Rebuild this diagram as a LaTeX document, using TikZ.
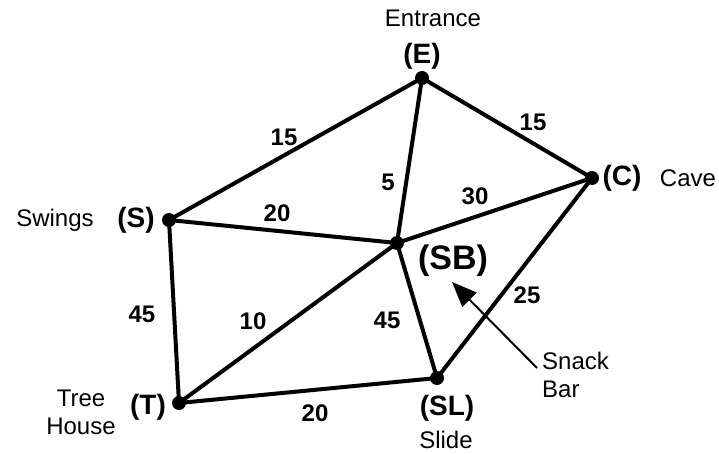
\documentclass[tikz,border=0pt]{standalone}
\usepackage{fontspec}
\setmainfont{Liberation Sans}
\usetikzlibrary{arrows.meta}
\begin{document}
\begin{tikzpicture}[x=1pt,y=-1pt,
  vtx/.style={circle,fill=black,inner sep=0pt,minimum size=14pt},
  edge/.style={line width=4pt,line cap=round},
  wt/.style={font=\fontsize{24}{26}\selectfont\bfseries,inner sep=0pt},
  lbl/.style={font=\fontsize{28}{30}\selectfont\bfseries,inner sep=0pt},
  nm/.style={font=\fontsize{24}{28}\selectfont,inner sep=0pt,align=center},
  pointer/.style={line width=2pt,-{Triangle[length=25pt,width=20pt]}}]
\useasboundingbox (0,0) rectangle (719,454);
% vertices
\node[vtx] (E) at (422,78) {};
\node[vtx] (C) at (592,178) {};
\node[vtx] (S) at (169,220) {};
\node[vtx] (SB) at (397,243) {};
\node[vtx] (T) at (179,403) {};
\node[vtx] (SL) at (437,378) {};
% edges
\draw[edge] (E.center) -- (C.center);
\draw[edge] (E.center) -- (S.center);
\draw[edge] (E.center) -- (SB.center);
\draw[edge] (S.center) -- (SB.center);
\draw[edge] (SB.center) -- (C.center);
\draw[edge] (S.center) -- (T.center);
\draw[edge] (T.center) -- (SB.center);
\draw[edge] (SB.center) -- (SL.center);
\draw[edge] (SL.center) -- (C.center);
\draw[edge] (T.center) -- (SL.center);
% weights
\node[wt] (w1) at (284,137) {15};
\node[wt] (w2) at (533,122) {15};
\node[wt] (w3) at (388,182) {5};
\node[wt] (w4) at (475,196) {30};
\node[wt] (w5) at (277,213) {20};
\node[wt] (w6) at (142,314) {45};
\node[wt] (w7) at (253,321) {10};
\node[wt] (w8) at (387,320) {45};
\node[wt] (w9) at (527,295) {25};
\node[wt] (w10) at (315,413) {20};
% vertex letters
\node[lbl] (lE) at (422,56) {(E)};
\node[lbl] (lC) at (622,178) {(C)};
\node[lbl] (lS) at (136,220) {(S)};
\node[lbl,font=\fontsize{34}{36}\selectfont\bfseries] (lSB) at (453,261) {(SB)};
\node[lbl] (lT) at (148,407) {(T)};
\node[lbl] (lSL) at (447,408) {(SL)};
% names
\node[nm] (nE) at (433,18) {Entrance};
\node[nm] (nC) at (688,178) {Cave};
\node[nm] (nS) at (55,220) {Swings};
\node[nm] (nT) at (81,412) {Tree\\House};
\node[nm] (nSL) at (446,440) {Slide};
\node[nm,align=left,anchor=west] (nSB) at (542,375) {Snack\\Bar};
% pointer
\coordinate (tail) at (537,368);
\coordinate (tip) at (452,282);
\draw[pointer] (tail) -- (tip);
\end{tikzpicture}
\end{document}
